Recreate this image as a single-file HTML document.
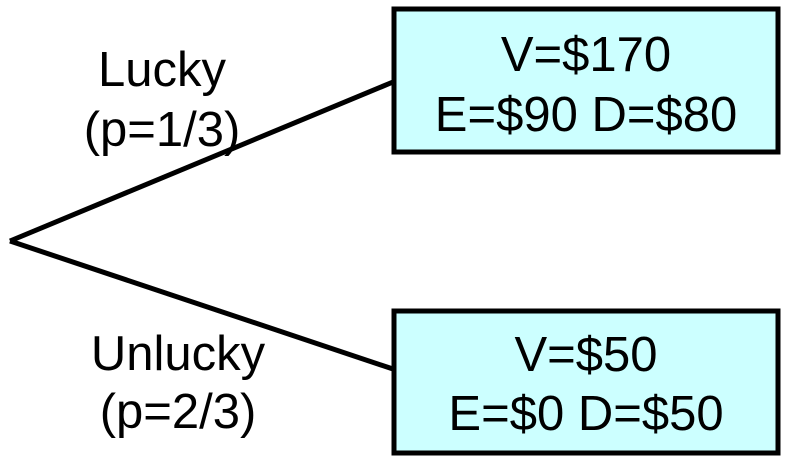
<!DOCTYPE html>
<html>
<head>
<meta charset="utf-8">
<style>
  html,body{margin:0;padding:0;background:#fff;}
  svg{display:block;}
  text{font-family:"Liberation Sans",Arial,sans-serif;font-size:49px;fill:#000;}
</style>
</head>
<body>
<svg width="786" height="462" viewBox="0 0 786 462">
  <line x1="10" y1="241" x2="393" y2="82" stroke="#000" stroke-width="5"/>
  <line x1="10" y1="241" x2="393" y2="369" stroke="#000" stroke-width="5"/>

  <rect x="394" y="9" width="384" height="143" fill="#ccffff" stroke="#000" stroke-width="5"/>
  <text x="586" y="71" text-anchor="middle">V=$170</text>
  <text x="586" y="131" text-anchor="middle">E=$90 D=$80</text>

  <rect x="394" y="311" width="384" height="142" fill="#ccffff" stroke="#000" stroke-width="5"/>
  <text x="586" y="371" text-anchor="middle">V=$50</text>
  <text x="586" y="430" text-anchor="middle">E=$0 D=$50</text>

  <text x="162" y="86" text-anchor="middle">Lucky</text>
  <text x="162" y="146" text-anchor="middle">(p=1/3)</text>
  <text x="178" y="370" text-anchor="middle">Unlucky</text>
  <text x="178" y="428" text-anchor="middle">(p=2/3)</text>
</svg>
</body>
</html>
